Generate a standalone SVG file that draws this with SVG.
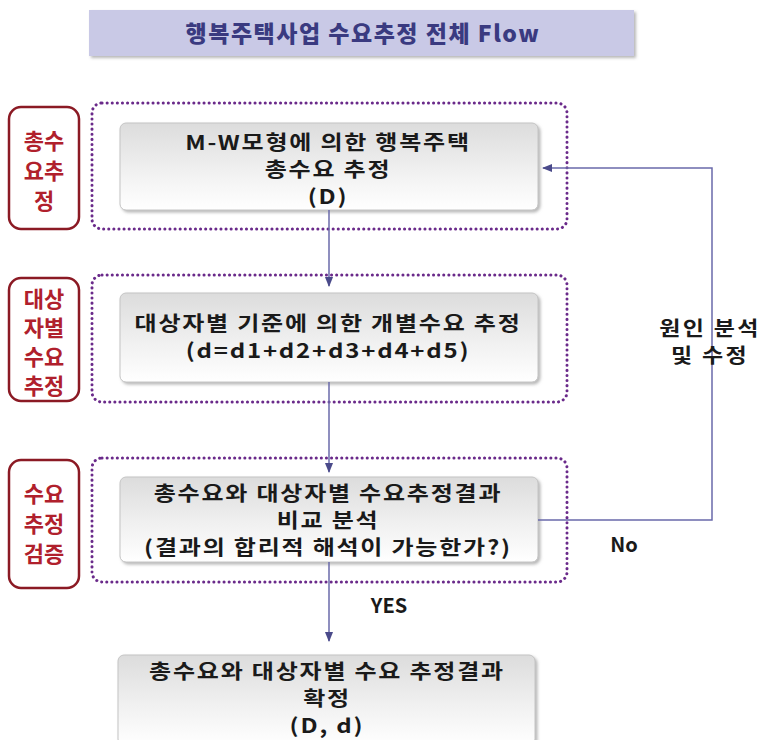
<svg xmlns="http://www.w3.org/2000/svg" width="762" height="740" viewBox="0 0 762 740">
<defs>
<linearGradient id="gbox" x1="0" y1="0" x2="0" y2="1">
<stop offset="0" stop-color="#dcdcdc"/>
<stop offset="0.6" stop-color="#f2f2f2"/>
<stop offset="1" stop-color="#ffffff"/>
</linearGradient>
<marker id="arr" viewBox="0 0 10 10" refX="9" refY="5" markerWidth="7" markerHeight="7" orient="auto">
<path d="M0,1 L10,5 L0,9 Z" fill="#4a4a8a"/>
</marker>
<filter id="sh" x="-5%" y="-5%" width="110%" height="120%">
<feDropShadow dx="2" dy="2" stdDeviation="1.5" flood-color="#888" flood-opacity="0.6"/>
</filter>
</defs>
<style>
.lbl{fill:none;stroke:#8b1a24;stroke-width:2.5}
.lt{font-family:"Noto Sans CJK KR","Noto Sans",sans-serif;font-weight:bold;font-size:22px;fill:#b0202c;text-anchor:middle}
.dot{fill:none;stroke:#6a2a8a;stroke-width:3;stroke-dasharray:0.1 5;stroke-linecap:round}
.box{fill:url(#gbox);stroke:#c4c4c4;stroke-width:1}
.bt{font-family:"Noto Sans CJK KR","Noto Sans",sans-serif;font-weight:bold;font-size:20px;letter-spacing:1.5px;fill:#1a1a1a;text-anchor:middle}
.con{fill:none;stroke:#6a6aaa;stroke-width:1.5}
.ct{font-family:"Noto Sans CJK KR","Noto Sans",sans-serif;font-weight:bold;font-size:20px;fill:#1a1a1a;text-anchor:middle}
</style>
<rect width="762" height="740" fill="#ffffff"/>
<g id="title">
<rect x="89" y="10" width="545" height="46" fill="#c9c9e6" filter="url(#sh)"/>
<text x="363" y="42" font-family="'Noto Sans CJK KR','Noto Sans',sans-serif" font-weight="900" font-size="23" letter-spacing="1.5" fill="#3a3a80" text-anchor="middle">행복주택사업 수요추정 전체 Flow</text>
</g>
<g id="label1">
<rect class="lbl" x="9" y="107" width="70" height="122" rx="12"/>
<text class="lt" x="44" y="149">총수</text>
<text class="lt" x="44" y="179">요추</text>
<text class="lt" x="44" y="209">정</text>
</g>
<g id="label2">
<rect class="lbl" x="9" y="278" width="70" height="123" rx="12"/>
<text class="lt" x="44" y="307">대상</text>
<text class="lt" x="44" y="336">자별</text>
<text class="lt" x="44" y="365">수요</text>
<text class="lt" x="44" y="394">추정</text>
</g>
<g id="label3">
<rect class="lbl" x="9" y="460" width="70" height="128" rx="12"/>
<text class="lt" x="44" y="502">수요</text>
<text class="lt" x="44" y="532">추정</text>
<text class="lt" x="44" y="562">검증</text>
</g>
<g id="group1"><rect class="dot" x="92" y="103" width="475" height="126" rx="10"/></g>
<g id="group2"><rect class="dot" x="92" y="275" width="475" height="127" rx="10"/></g>
<g id="group3"><rect class="dot" x="92" y="458" width="475" height="124" rx="10"/></g>
<g id="node1">
<rect class="box" x="120" y="123" width="418" height="87" rx="6" filter="url(#sh)"/>
<g transform="translate(328 0) scale(1.2 1)">
<text class="bt" x="0" y="150">M-W모형에 의한 행복주택</text>
<text class="bt" x="0" y="177">총수요 추정</text>
<text class="bt" x="0" y="204">(D)</text>
</g>
</g>
<g id="node2">
<rect class="box" x="120" y="293" width="418" height="89" rx="6" filter="url(#sh)"/>
<g transform="translate(328 0) scale(1.2 1)">
<text class="bt" x="0" y="331">대상자별 기준에 의한 개별수요 추정</text>
<text class="bt" x="0" y="358" letter-spacing="0.6">(d=d1+d2+d3+d4+d5)</text>
</g>
</g>
<g id="node3">
<rect class="box" x="120" y="477" width="418" height="85" rx="6" filter="url(#sh)"/>
<g transform="translate(328 0) scale(1.2 1)">
<text class="bt" x="0" y="501">총수요와 대상자별 수요추정결과</text>
<text class="bt" x="0" y="528">비교 분석</text>
<text class="bt" x="0" y="555">(결과의 합리적 해석이 가능한가?)</text>
</g>
</g>
<g id="node4">
<rect class="box" x="118" y="655" width="417" height="90" rx="6" filter="url(#sh)"/>
<g transform="translate(327 0) scale(1.2 1)">
<text class="bt" x="0" y="679">총수요와 대상자별 수요 추정결과</text>
<text class="bt" x="0" y="706">확정</text>
<text class="bt" x="0" y="733">(D, d)</text>
</g>
</g>
<g id="connectors">
<line class="con" x1="329" y1="210" x2="329" y2="286" marker-end="url(#arr)"/>
<line class="con" x1="329" y1="382" x2="329" y2="472" marker-end="url(#arr)"/>
<line class="con" x1="329" y1="562" x2="329" y2="641" marker-end="url(#arr)"/>
<polyline class="con" points="538,520 712,520 712,168 543,168" marker-end="url(#arr)"/>
<g transform="translate(710 0) scale(1.15 1)">
<text class="ct" x="0" y="336" letter-spacing="2">원인 분석</text>
<text class="ct" x="0" y="363" letter-spacing="2">및 수정</text>
</g>
<text class="ct" x="624" y="552" font-size="22">No</text>
<text class="ct" x="389" y="613" font-size="22">YES</text>
</g>
</svg>
